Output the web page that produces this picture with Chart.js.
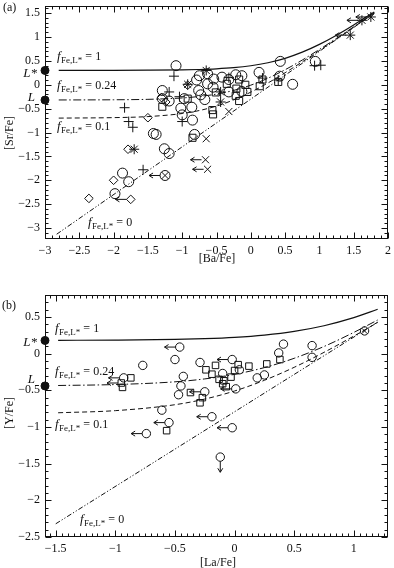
<!DOCTYPE html>
<html><head><meta charset="utf-8">
<script src="https://cdn.jsdelivr.net/npm/chart.js@4.4.1/dist/chart.umd.min.js"></script>
<style>
html,body{margin:0;padding:0;background:#fff;}
#wrap{position:relative;width:394px;height:568px;overflow:hidden;}
canvas{position:absolute;left:0;}
#ca{top:0;} #cb{top:280px;}
</style></head><body>
<div id="wrap"><canvas id="ca" width="394" height="270"></canvas><canvas id="cb" width="394" height="288"></canvas></div>
<script>
// ===== Panel (a): [Sr/Fe] vs [Ba/Fe] =====
const aXTicks = [-3,-2.5,-2,-1.5,-1,-0.5,0,0.5,1,1.5,2];
const aYTicks = [1.5,1,0.5,0,-0.5,-1,-1.5,-2,-2.5,-3];
const aCurveX   = [-2.8,-2,-1.5,-1,-0.75,-0.5,-0.25,0,0.25,0.5,0.75,1,1.25,1.5,1.8];
const aCurveF1  = [0.301,0.302,0.305,0.312,0.320,0.334,0.358,0.398,0.461,0.554,0.683,0.846,1.038,1.252,1.526];
const aCurveF024= [-0.318,-0.314,-0.305,-0.276,-0.245,-0.195,-0.118,-0.008,0.137,0.315,0.518,0.740,0.973,1.213,1.506];
const aCurveF01 = [-0.698,-0.688,-0.666,-0.602,-0.539,-0.446,-0.317,-0.154,0.038,0.252,0.480,0.717,0.960,1.205,1.503];
const aCurveF0X = [-2.83,1.8];
const aCurveF0  = [-3.13,1.5];
const aCircles = [[-1.09,0.40],[-0.79,0.10],[-1.29,-0.12],[-1.29,-0.29],[-1.19,-0.34],[-0.97,-0.29],[-1.02,-0.49],[-0.86,-0.47],[-1.0,-0.63],[-0.85,-0.74],[-1.42,-1.02],[-1.38,-1.04],[-0.82,-1.04],[-1.26,-1.34],[-1.19,-1.44],[-1.87,-1.85],[-1.78,-2.03],[-1.98,-2.28],[0.43,0.49],[0.94,0.49],[0.61,0.01],[0.42,0.18],[0.12,0.26],[-0.13,0.19],[-0.22,0.21],[-0.13,-0.14],[-0.32,0.11],[-0.32,-0.15],[-0.42,0.16],[-0.54,0.12],[-0.55,-0.05],[-0.63,0.23],[-0.75,0.19],[-0.63,0.02],[-0.76,-0.12],[-0.73,-0.21],[-0.67,-0.31]];
const aCirclesUL = [[-1.25,-1.90]];
const aSquares = [[-0.92,-0.29],[-1.29,-0.46],[-0.85,-1.11],[0.40,0.06],[0.17,0.11],[0.13,-0.03],[-0.17,0.11],[-0.08,0.0],[-0.05,-0.15],[-0.21,-0.08],[-0.17,-0.34],[-0.22,-0.23],[-0.35,0.02],[-0.51,-0.16],[-0.56,-0.53],[-0.55,-0.62]];
const aDiamonds = [[-0.92,-0.01],[-1.30,-0.27],[-1.24,-0.36],[-1.50,-0.69],[-1.79,-1.35],[-2.0,-2.0],[-2.36,-2.38]];
const aDiamondsUL = [[-1.75,-2.40]];
const aPlus = [[-1.12,0.18],[-1.19,-0.15],[-1.04,-0.25],[-1.0,-0.77],[-1.84,-0.48],[-1.78,-0.77],[-1.72,-0.89],[-1.57,-1.78],[0.93,0.40],[1.02,0.41],[0.17,0.14],[-0.32,0.15],[0.40,0.10]];
const aCrosses = [[-0.32,-0.56],[-0.65,-1.13],[-1.25,-1.90]];
const aCrossesUL = [[-0.66,-1.57],[-0.63,-1.77]];
const aStars = [[-0.92,0.01],[-1.70,-1.35],[-0.65,0.30],[-0.44,-0.15],[-0.44,-0.36]];
const aStarsUL = [[1.45,1.04],[1.62,1.35],[1.75,1.42]];
const aRefPts = [[-3,0.3],[-3,-0.32]];

// ===== Panel (b): [Y/Fe] vs [La/Fe] =====
const bXTicks = [-1.5,-1,-0.5,0,0.5,1];
const bYTicks = [0.5,0,-0.5,-1,-1.5,-2,-2.5];
const bCurveX   = [-1.48,-1,-0.5,-0.25,0,0.25,0.5,0.75,1,1.2];
const bCurveF1  = [0.182,0.185,0.194,0.205,0.223,0.254,0.304,0.381,0.491,0.605];
const bCurveF024= [-0.434,-0.421,-0.384,-0.344,-0.282,-0.190,-0.063,0.098,0.290,0.459];
const bCurveF01 = [-0.806,-0.777,-0.696,-0.619,-0.509,-0.363,-0.186,0.018,0.240,0.425];
const bCurveF0X = [-1.5,1.2];
const bCurveF0  = [-2.32,0.43];
const bCircles = [[-0.50,-0.08],[-0.77,-0.16],[-0.29,-0.12],[-0.43,-0.31],[-0.45,-0.44],[-0.47,-0.56],[-0.61,-0.77],[0.41,0.13],[0.37,0.01],[0.65,0.11],[0.65,-0.05],[1.09,0.31],[0.19,-0.33],[0.25,-0.29],[0.04,-0.22],[-0.10,-0.27]];
const bCirclesUL = [[-0.46,0.09],[-0.93,-0.33],[-0.55,-0.94],[-0.74,-1.09],[-0.02,-1.01],[-0.02,-0.08],[0.01,-0.48],[-0.25,-0.52],[-0.19,-0.86]];
const bCirclesDown = [[-0.12,-1.41]];
const bSquares = [[-0.37,-0.53],[-0.29,-0.67],[-0.27,-0.60],[-0.87,-0.33],[-0.94,-0.46],[-0.57,-1.05],[0.38,-0.08],[0.27,-0.14],[0.12,-0.17],[0.03,-0.15],[0.0,-0.23],[-0.03,-0.32],[-0.09,-0.37],[-0.13,-0.35],[-0.10,-0.41],[-0.07,-0.45],[-0.24,-0.22],[-0.16,-0.16],[-0.19,-0.28]];
const bSquaresUL = [[-0.95,-0.40]];
const bCrosses = [[1.09,0.31]];
const bRefPts = [[-1.59,0.18],[-1.59,-0.44]];

// ===== helpers =====
const SERIF = '"Liberation Serif","DejaVu Serif","Times New Roman",serif';
const INK = '#111';
const pts = arr => arr.map(p => ({x:p[0], y:p[1]}));
function marker(arr, style, r, extra){
  return Object.assign({data:pts(arr), pointStyle:style, pointRadius:r, pointHoverRadius:r,
    borderColor:INK, backgroundColor:'rgba(0,0,0,0)', pointBorderWidth:1, borderWidth:1, showLine:false, clip:false}, extra||{});
}
function curve(xs, ys, dash, w){
  return {data: xs.map((x,i)=>({x:x, y:ys[i]})), showLine:true, pointRadius:0, pointHoverRadius:0,
    borderColor:INK, borderWidth:w||1, borderDash:dash||[], fill:false, cubicInterpolationMode:'monotone'};
}
const fmt = v => { const s = String(Math.round(v*100)/100); return v < 0 ? '\u2212' + s.slice(1) : s; };

const frameTicks = {
  id:'frameTicks',
  afterDraw(chart, args, o){
    const {ctx, chartArea:a} = chart;
    const xs = chart.scales.x, ys = chart.scales.y;
    ctx.save(); ctx.strokeStyle = INK; ctx.lineWidth = 1;
    const L = Math.round(a.left)+0.5, R = Math.round(a.right)-0.5, T = Math.round(a.top)+0.5, B = Math.round(a.bottom)-0.5;
    ctx.strokeRect(L, T, R-L, B-T);
    ctx.beginPath();
    const each = (min, max, minor, major, fn) => {
      for (let k = Math.ceil(min/minor - 1e-9); k*minor <= max + 1e-9; k++) {
        const v = k*minor; const mj = Math.abs(v/major - Math.round(v/major)) < 1e-6;
        fn(v, mj ? 6 : 3);
      }
    };
    each(xs.min, xs.max, o.xMinor, 0.5, (v, len) => {
      const p = Math.round(xs.getPixelForValue(v)) + 0.5;
      ctx.moveTo(p, B); ctx.lineTo(p, B - len); ctx.moveTo(p, T); ctx.lineTo(p, T + len);
    });
    each(ys.min, ys.max, o.yMinor, 0.5, (v, len) => {
      const p = Math.round(ys.getPixelForValue(v)) + 0.5;
      ctx.moveTo(L, p); ctx.lineTo(L + len, p); ctx.moveTo(R, p); ctx.lineTo(R - len, p);
    });
    ctx.stroke(); ctx.restore();
  }
};

const arrows = {
  id:'arrows',
  afterDatasetsDraw(chart){
    const ctx = chart.ctx;
    ctx.save(); ctx.strokeStyle = INK; ctx.lineWidth = 1;
    chart.data.datasets.forEach((ds, i) => {
      if (!ds.arrow) return;
      const meta = chart.getDatasetMeta(i);
      meta.data.forEach(el => {
        const r = ds.arrowGap || ds.pointRadius;
        ctx.beginPath();
        if (ds.arrow === 'left') {
          const x0 = el.x - r, x1 = x0 - 11, y = el.y;
          ctx.moveTo(x0, y); ctx.lineTo(x1, y);
          ctx.moveTo(x1 + 4, y - 2.5); ctx.lineTo(x1, y); ctx.lineTo(x1 + 4, y + 2.5);
        } else {
          const y0 = el.y + r, y1 = y0 + 11, x = el.x;
          ctx.moveTo(x, y0); ctx.lineTo(x, y1);
          ctx.moveTo(x - 2.5, y1 - 4); ctx.lineTo(x, y1); ctx.lineTo(x + 2.5, y1 - 4);
        }
        ctx.stroke();
      });
    });
    ctx.restore();
  }
};

const texts = {
  id:'texts',
  afterDraw(chart, args, o){
    const ctx = chart.ctx; const oy = o.oy || 0;
    ctx.save(); ctx.fillStyle = INK; ctx.textBaseline = 'alphabetic';
    (o.items || []).forEach(it => {
      const x = it.x, y = it.y - oy;
      if (it.f !== undefined) {
        ctx.textAlign = 'left';
        ctx.font = 'italic 13px ' + SERIF; ctx.fillText('f', x, y);
        let w = ctx.measureText('f').width + 0.5;
        ctx.font = '9px ' + SERIF; ctx.fillText('Fe,L*', x + w, y + 3);
        w += ctx.measureText('Fe,L*').width;
        ctx.font = '12px ' + SERIF; ctx.fillText(' = ' + it.f, x + w, y);
      } else {
        ctx.font = it.font || ('12px ' + SERIF);
        ctx.textAlign = it.align || 'left';
        if (it.rot) { ctx.translate(x, y); ctx.rotate(it.rot); ctx.textAlign = 'center'; ctx.fillText(it.t, 0, 0); ctx.setTransform(1,0,0,1,0,0); }
        else ctx.fillText(it.t, x, y);
      }
    });
    ctx.restore();
  }
};

function scaleOpts(min, max, tickVals, isX, fitSize){
  return {
    type:'linear', min:min, max:max, position: isX ? 'bottom' : 'left',
    grid:{display:false, drawTicks:false}, border:{display:false},
    ticks:{padding:5, color:INK, font:{family:SERIF, size:12}, maxRotation:0, autoSkip:false, callback:fmt},
    afterBuildTicks: s => { s.ticks = tickVals.map(v => ({value:v})); },
    afterFit: s => { if (isX) s.height = fitSize; else s.width = fitSize;
      s.paddingTop = 0; s.paddingBottom = 0; s.paddingLeft = 0; s.paddingRight = 0; }
  };
}

function makeChart(id, cfg){
  return new Chart(document.getElementById(id), {
    type:'scatter',
    data:{datasets: cfg.datasets},
    options:{
      responsive:false, animation:false, devicePixelRatio:1, events:[],
      layout:{padding:{top:cfg.top, right:4, left:0, bottom:0}},
      scales:{ x: scaleOpts(cfg.xmin, cfg.xmax, cfg.xticks, true, 31), y: scaleOpts(cfg.ymin, cfg.ymax, cfg.yticks, false, 45) },
      plugins:{ legend:{display:false}, tooltip:{enabled:false},
        frameTicks:{xMinor:cfg.xMinor, yMinor:0.1}, texts:{oy:cfg.oy, items:cfg.items} }
    },
    plugins:[frameTicks, arrows, texts]
  });
}

makeChart('ca', {
  top:3, oy:0, xmin:-3, xmax:2, ymin:-3.23, ymax:1.65, xticks:aXTicks, yticks:aYTicks, xMinor:0.1,
  datasets:[
    curve(aCurveX, aCurveF1, [], 1.2),
    curve(aCurveX, aCurveF024, [8,2.5,1.5,2.5], 1),
    curve(aCurveX, aCurveF01, [5,3], 1),
    curve(aCurveF0X, aCurveF0, [5,2,1.2,2,1.2,2], 1),
    marker(aCircles, 'circle', 5),
    marker(aCirclesUL, 'circle', 5, {arrow:'left'}),
    marker(aSquares, 'rect', 5),
    marker(aDiamonds, 'rectRot', 4.3),
    marker(aDiamondsUL, 'rectRot', 4.3, {arrow:'left'}),
    marker(aPlus, 'cross', 5),
    marker(aCrosses, 'crossRot', 5),
    marker(aCrossesUL, 'crossRot', 5, {arrow:'left', arrowGap:4}),
    marker(aStars, 'star', 5),
    marker(aStarsUL, 'star', 5, {arrow:'left', arrowGap:4}),
    marker(aRefPts, 'circle', 4, {backgroundColor:INK})
  ],
  items:[
    {t:'(a)', x:3, y:11},
    {t:'[Sr/Fe]', x:13, y:133, rot:-Math.PI/2},
    {t:'[Ba/Fe]', x:217, y:262, align:'center'},
    {t:'L*', x:37, y:77, align:'right', font:'italic 13px ' + SERIF},
    {t:'L', x:35, y:101, align:'right', font:'italic 13px ' + SERIF},
    {f:'1', x:57, y:60},
    {f:'0.24', x:57, y:89},
    {f:'0.1', x:57, y:130},
    {f:'0', x:88, y:226}
  ]
});

makeChart('cb', {
  top:15, oy:280, xmin:-1.59, xmax:1.29, ymin:-2.5, ymax:0.8, xticks:bXTicks, yticks:bYTicks, xMinor:0.05,
  datasets:[
    curve(bCurveX, bCurveF1, [], 1.2),
    curve(bCurveX, bCurveF024, [8,2.5,1.5,2.5], 1),
    curve(bCurveX, bCurveF01, [5,3], 1),
    curve(bCurveF0X, bCurveF0, [5,2,1.2,2,1.2,2], 1),
    marker(bCircles, 'circle', 4.2),
    marker(bCirclesUL, 'circle', 4.2, {arrow:'left'}),
    marker(bCirclesDown, 'circle', 4.2, {arrow:'down'}),
    marker(bSquares, 'rect', 4.6),
    marker(bSquaresUL, 'rect', 4.6, {arrow:'left', arrowGap:3.3}),
    marker(bCrosses, 'crossRot', 4),
    marker(bRefPts, 'circle', 4, {backgroundColor:INK})
  ],
  items:[
    {t:'(b)', x:2, y:309},
    {t:'[Y/Fe]', x:13, y:413, rot:-Math.PI/2},
    {t:'[La/Fe]', x:218, y:566, align:'center'},
    {t:'L*', x:37, y:346, align:'right', font:'italic 13px ' + SERIF},
    {t:'L', x:35, y:383, align:'right', font:'italic 13px ' + SERIF},
    {f:'1', x:55, y:332},
    {f:'0.24', x:55, y:375},
    {f:'0.1', x:55, y:428},
    {f:'0', x:80, y:523}
  ]
});
</script>
</body></html>
